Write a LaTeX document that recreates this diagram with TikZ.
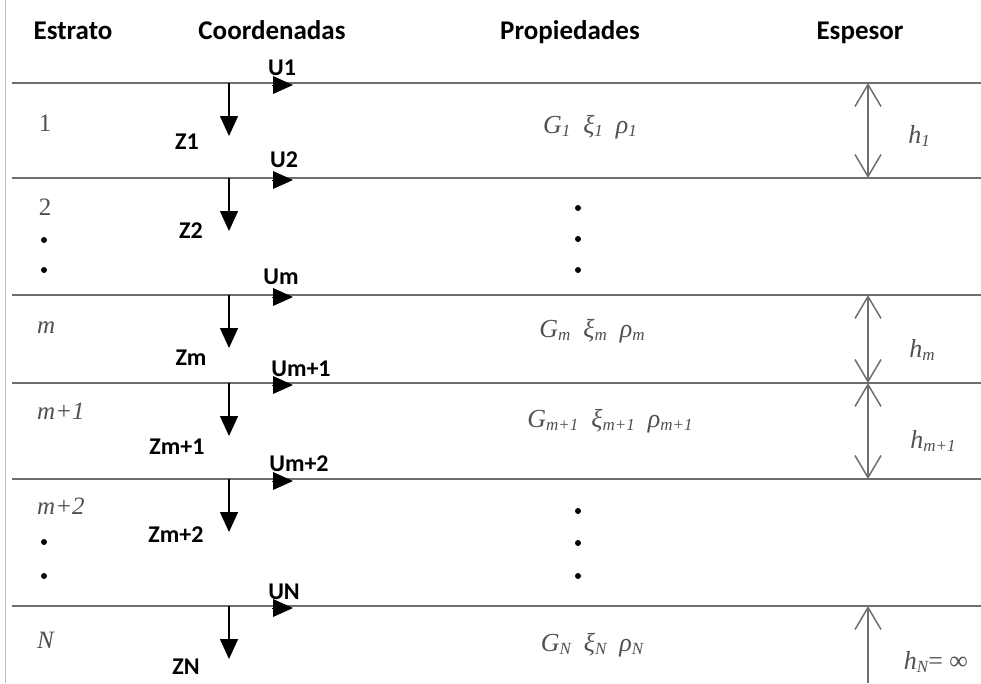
\documentclass[tikz,border=0pt]{standalone}
\usepackage{fontspec}
\setmainfont{Liberation Serif}
\newfontfamily\hdr{Carlito}
\usetikzlibrary{arrows.meta}
\definecolor{linegray}{HTML}{6E6E6E}
\definecolor{txtgray}{HTML}{505050}
\newcommand{\psub}[2]{#1\raisebox{-0.3ex}{\fontsize{17}{17}\selectfont #2}}
\begin{document}
\begin{tikzpicture}[x=1pt,y=-1pt,
  layer/.style={draw=linegray,line width=2pt},
  zarrow/.style={line width=1.4pt,-{Triangle[width=18pt,length=20pt]}},
  uarrow/.style={line width=0pt,-{Triangle[width=18pt,length=20pt]}},
  thick/.style={draw=linegray,line width=1.5pt,{Straight Barb[length=22pt,width=26pt,line width=1.5pt]}-{Straight Barb[length=22pt,width=26pt,line width=1.5pt]}},
  hdrtxt/.style={font=\hdr\bfseries\fontsize{27}{27}\selectfont,inner sep=0pt,anchor=base},
  lbl/.style={font=\hdr\bfseries\fontsize{24}{24}\selectfont,inner sep=0pt},
  srf/.style={font=\fontsize{25}{25}\selectfont,text=txtgray,inner sep=0pt},
  srfi/.style={font=\fontsize{25}{25}\selectfont\itshape,text=txtgray,inner sep=0pt,anchor=west},
  prop/.style={font=\fontsize{26}{26}\selectfont\itshape,text=txtgray,inner sep=0pt},
  dot/.style={circle,fill=black,inner sep=0pt,minimum size=6pt}]
\useasboundingbox (0,0) rectangle (981,683);
\draw[gray!50,line width=1pt] (5,0) -- (5,683);
% headers
\node[hdrtxt] (hE) at (73,39) {Estrato};
\node[hdrtxt] (hC) at (272,39) {Coordenadas};
\node[hdrtxt] (hP) at (570,39) {Propiedades};
\node[hdrtxt] (hS) at (860,39) {Espesor};
% layer lines
\foreach \i/\y in {0/83,1/178,2/295,3/383,4/479,5/606}{
  \coordinate (L\i a) at (12,\y);
  \coordinate (L\i b) at (981,\y);
  \draw[layer] (L\i a) -- (L\i b);
  \coordinate (Z\i s) at (229,\y);
  \coordinate (Z\i e) at (229,\y+53);
  \draw[zarrow] (Z\i s) -- (Z\i e);
  \coordinate (U\i s) at (272,\y+2);
  \coordinate (U\i e) at (293,\y+2);
  \draw[uarrow] (U\i s) -- (U\i e);
}
% U labels
\node[lbl] (u1) at (282,68) {U1};
\node[lbl] (u2) at (284,160) {U2};
\node[lbl] (um) at (281,277) {Um};
\node[lbl] (um1) at (301,369) {Um+1};
\node[lbl] (um2) at (299,464) {Um+2};
\node[lbl] (uN) at (284,592) {UN};
% Z labels
\node[lbl] (z1) at (187,142) {Z1};
\node[lbl] (z2) at (191,231) {Z2};
\node[lbl] (zm) at (191,358) {Zm};
\node[lbl] (zm1) at (177,447) {Zm+1};
\node[lbl] (zm2) at (176,535) {Zm+2};
\node[lbl] (zN) at (186,667) {ZN};
% strata labels
\node[srf] (s1) at (45,123) {1};
\node[srf] (s2) at (45,207) {2};
\node[dot] (s2d1) at (44,240) {};
\node[dot] (s2d2) at (44,270) {};
\node[srfi] (sm) at (37,328) {m};
\node[srfi] (sm1) at (37,411) {m+1};
\node[srfi] (sm2) at (37,506) {m+2};
\node[dot] (s5d1) at (44,542) {};
\node[dot] (s5d2) at (44,576) {};
\node[srfi] (sN) at (37,640) {N};
% properties
\node[prop] (p1) at (590,127) {\psub{G}{1}\ \ \psub{ξ}{1}\ \ \psub{ρ}{1}};
\node[dot] (pd1) at (578,208) {};
\node[dot] (pd2) at (578,239) {};
\node[dot] (pd3) at (578,270) {};
\node[prop] (pm) at (592,331) {\psub{G}{m}\ \ \psub{ξ}{m}\ \ \psub{ρ}{m}};
\node[prop] (pm1) at (610,421) {\psub{G}{m+1}\ \ \psub{ξ}{m+1}\ \ \psub{ρ}{m+1}};
\node[dot] (pd4) at (578,511) {};
\node[dot] (pd5) at (578,543) {};
\node[dot] (pd6) at (578,576) {};
\node[prop] (pN) at (592,645) {\psub{G}{N}\ \ \psub{ξ}{N}\ \ \psub{ρ}{N}};
% thickness arrows
\coordinate (h1t) at (868,83);
\coordinate (h1b) at (868,178);
\draw[thick] (h1t) -- (h1b);
\coordinate (hmt) at (868,295);
\coordinate (hmb) at (868,383);
\draw[thick] (hmt) -- (hmb);
\coordinate (hm1t) at (868,383);
\coordinate (hm1b) at (868,479);
\draw[thick] (hm1t) -- (hm1b);
\coordinate (hNt) at (868,606);
\coordinate (hNb) at (868,683);
\draw[draw=linegray,line width=1.5pt,-{Straight Barb[length=22pt,width=26pt,line width=1.5pt]}] (hNb) -- (hNt);
\node[prop] (th1) at (919,136) {\psub{h}{1}};
\node[prop] (thm) at (922,350) {\psub{h}{m}};
\node[prop] (thm1) at (933,441) {\psub{h}{m+1}};
\node[prop] (thN) at (936,662) {\psub{h}{N}{\upshape = ∞}};
\end{tikzpicture}
\end{document}
